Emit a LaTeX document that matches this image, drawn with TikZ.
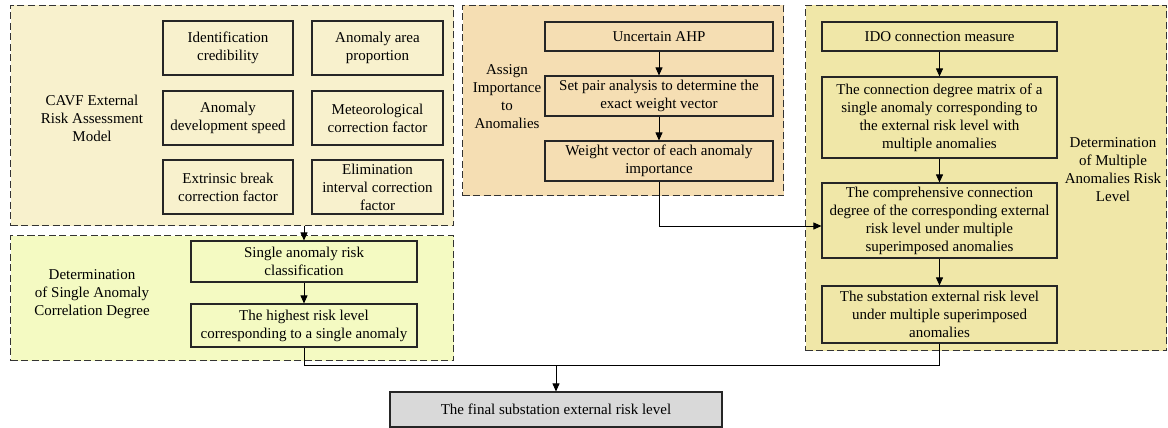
\documentclass[tikz,border=0pt]{standalone}
\usepackage{fontspec}
\setmainfont{Liberation Serif}
\usetikzlibrary{arrows.meta,calc}
\definecolor{cA}{HTML}{F8F1CD}
\definecolor{cB}{HTML}{F4FAC2}
\definecolor{cC}{HTML}{F5DEB3}
\definecolor{cD}{HTML}{F0E7A8}
\definecolor{cE}{HTML}{D9D9D9}
\tikzset{
  grp/.style={draw=black!80, dash pattern=on 7pt off 3.5pt, line width=1pt, anchor=north west, inner sep=0pt},
  bx/.style={draw=black!85, line width=1.1pt, align=center, inner sep=1pt, font=\fontsize{15}{18}\selectfont},
  lbl/.style={align=center, font=\fontsize{15}{18}\selectfont},
  arr/.style={-{Triangle[length=8pt,width=7pt]}, line width=0.8pt},
  ln/.style={line width=0.8pt}
}
\begin{document}
\begin{tikzpicture}[x=1pt,y=-1pt]
\useasboundingbox (0,0) rectangle (1168,428);
% groups
\node[grp, fill=cA, minimum width=443, minimum height=220] (G1) at (10,5) {};
\node[grp, fill=cB, minimum width=443, minimum height=125] (G2) at (10,235) {};
\node[grp, fill=cC, minimum width=321, minimum height=190] (G3) at (462,5) {};
\node[grp, fill=cD, minimum width=361, minimum height=345] (G4) at (805,5) {};
% group labels
\node[lbl] (L1) at (92,118) {CAVF External\\Risk Assessment\\Model};
\node[lbl] (L2) at (92,294) {Determination\\of Single Anomaly\\Correlation Degree};
\node[lbl] (L3) at (507,97) {Assign\\Importance\\to\\Anomalies};
\node[lbl] (L4) at (1113,170) {Determination\\of Multiple\\Anomalies Risk\\Level};
% group 1 boxes
\node[bx, fill=cA, minimum width=130, minimum height=54] (a1) at (228,48) {Identification\\credibility};
\node[bx, fill=cA, minimum width=131, minimum height=54] (a2) at (377.5,48) {Anomaly area\\proportion};
\node[bx, fill=cA, minimum width=130, minimum height=54] (a3) at (228,118) {Anomaly\\development speed};
\node[bx, fill=cA, minimum width=131, minimum height=54] (a4) at (377.5,118) {Meteorological\\correction factor};
\node[bx, fill=cA, minimum width=130, minimum height=54] (a5) at (228,187) {Extrinsic break\\correction factor};
\node[bx, fill=cA, minimum width=131, minimum height=54] (a6) at (377.5,187) {Elimination\\interval correction\\factor};
% group 2 boxes
\node[bx, fill=cB, minimum width=226, minimum height=41] (b1) at (304,261.5) {Single anomaly risk\\classification};
\node[bx, fill=cB, minimum width=226, minimum height=43] (b2) at (304,325.5) {The highest risk level\\corresponding to a single anomaly};
% group 3 boxes
\node[bx, fill=cC, minimum width=228, minimum height=29] (c1) at (659,36.5) {Uncertain AHP};
\node[bx, fill=cC, minimum width=228, minimum height=40] (c2) at (659,96) {Set pair analysis to determine the\\exact weight vector};
\node[bx, fill=cC, minimum width=228, minimum height=40] (c3) at (659,161) {Weight vector of each anomaly\\importance};
% group 4 boxes
\node[bx, fill=cD, minimum width=235, minimum height=29] (d1) at (939.5,36.5) {IDO connection measure};
\node[bx, fill=cD, minimum width=235, minimum height=81] (d2) at (939.5,117.5) {The connection degree matrix of a\\single anomaly corresponding to\\the external risk level with\\multiple anomalies};
\node[bx, fill=cD, minimum width=235, minimum height=75] (d3) at (939.5,220.5) {The comprehensive connection\\degree of the corresponding external\\risk level under multiple\\superimposed anomalies};
\node[bx, fill=cD, minimum width=235, minimum height=57] (d4) at (939.5,314.5) {The substation external risk level\\under multiple superimposed\\anomalies};
% final
\node[bx, fill=cE, minimum width=332, minimum height=35] (fin) at (556,409.5) {The final substation external risk level};
% connectors
\draw[arr] (G1.south -| b1.north) -- (b1.north);
\draw[arr] (b1) -- (b2);
\draw[arr] (c1) -- (c2);
\draw[arr] (c2) -- (c3);
\draw[arr] (d1) -- (d2);
\draw[arr] (d2) -- (d3);
\draw[arr] (d3) -- (d4);
\coordinate (j) at (d3.west |- 0,226);
\draw[arr] (c3.south) |- (j);
\coordinate (m) at (556,365);
\draw[ln] (b2.south) |- (m);
\draw[ln] (d4.south) |- (m);
\draw[arr] (m) -- (fin.north);
\end{tikzpicture}
\end{document}
